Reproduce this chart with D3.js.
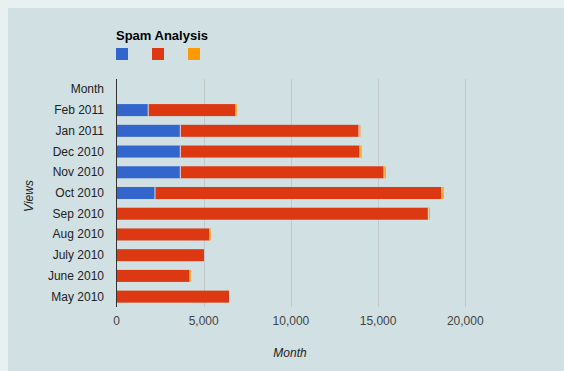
<!DOCTYPE html>
<html>
<head>
<meta charset="utf-8">
<script src="https://cdn.jsdelivr.net/npm/d3@7"></script>
<style>
  html, body { margin: 0; padding: 0; background: #e9f0f1; overflow: hidden; }
  #chart { position: absolute; left: 0; top: 0; }
</style>
</head>
<body>
<div id="chart"></div>
<script>
// Spam Analysis - stacked horizontal bars
const months = ['Month', 'Feb 2011', 'Jan 2011', 'Dec 2010', 'Nov 2010', 'Oct 2010',
                'Sep 2010', 'Aug 2010', 'July 2010', 'June 2010', 'May 2010'];
const blueSeries   = [0, 1820, 3660, 3660, 3660, 2210, 0, 0, 0, 0, 0];
const redSeries    = [0, 5030, 10245, 10300, 11680, 16450, 17880, 5360, 5020, 4215, 6450];
const orangeSeries = [0, 40, 80, 90, 100, 100, 80, 20, 0, 30, 0];
const xTicks = [0, 5000, 10000, 15000, 20000];

const colors = ['#3366cc', '#dc3912', '#ff9900'];
const W = 564, H = 371;
const area = {left: 116.5, right: 552.5, top: 79, bottom: 307};

const svg = d3.select('#chart').append('svg')
    .attr('width', W)
    .attr('height', H)
    .style('font-family', 'Liberation Sans, Arial, sans-serif');

// background panel
svg.append('rect')
    .attr('x', 8).attr('y', 8)
    .attr('width', W).attr('height', H)
    .attr('fill', '#d0e0e3');

const x = d3.scaleLinear().domain([0, 25000]).range([area.left, area.right]);
const y = d3.scaleBand().domain(months).range([area.top, area.bottom]).paddingInner(0.42).paddingOuter(0.21);

// grid lines
svg.append('g')
    .selectAll('line')
    .data(xTicks.slice(1))
    .join('line')
    .attr('x1', d => Math.round(x(d)) + 0.5)
    .attr('x2', d => Math.round(x(d)) + 0.5)
    .attr('y1', area.top)
    .attr('y2', area.bottom)
    .attr('stroke', '#c4c9ca')
    .attr('stroke-width', 1);

// stacked bars
const rows = months.map((m, i) => {
    const vals = [blueSeries[i], redSeries[i], orangeSeries[i]];
    let acc = 0;
    return vals.map((v, k) => {
        const seg = {month: m, k: k, x0: acc, x1: acc + v};
        acc += v;
        return seg;
    }).filter(s => s.x1 > s.x0);
});

const bars = svg.append('g');
rows.flat().forEach(s => {
    bars.append('rect')
        .attr('x', x(s.x0))
        .attr('y', y(s.month))
        .attr('width', Math.max(x(s.x1) - x(s.x0), 1))
        .attr('height', y.bandwidth())
        .attr('fill', colors[s.k]);
    if (s.x0 > 0) {
        // thin light separator between stacked pieces
        bars.append('rect')
            .attr('x', x(s.x0) - 0.5)
            .attr('y', y(s.month))
            .attr('width', 0.8)
            .attr('height', y.bandwidth())
            .attr('fill', '#eef2f3');
    }
});

// vertical axis line
svg.append('line')
    .attr('x1', area.left).attr('x2', area.left)
    .attr('y1', area.top).attr('y2', area.bottom)
    .attr('stroke', '#333')
    .attr('stroke-width', 1);

// category labels
svg.append('g')
    .selectAll('text')
    .data(months)
    .join('text')
    .attr('x', 104)
    .attr('y', d => y(d) + y.bandwidth() / 2 + 4)
    .attr('text-anchor', 'end')
    .attr('font-size', '12px')
    .attr('fill', '#222')
    .text(d => d);

// x tick labels
svg.append('g')
    .selectAll('text')
    .data(xTicks)
    .join('text')
    .attr('x', d => x(d))
    .attr('y', 325)
    .attr('text-anchor', 'middle')
    .attr('font-size', '12px')
    .attr('fill', '#444')
    .text(d => d3.format(',')(d));

// axis titles
svg.append('text')
    .attr('x', 290)
    .attr('y', 357)
    .attr('text-anchor', 'middle')
    .attr('font-size', '12px')
    .attr('font-style', 'italic')
    .attr('fill', '#222')
    .text('Month');

svg.append('text')
    .attr('transform', 'translate(33, 196) rotate(-90)')
    .attr('text-anchor', 'middle')
    .attr('font-size', '12px')
    .attr('font-style', 'italic')
    .attr('fill', '#222')
    .text('Views');

// title
svg.append('text')
    .attr('x', 116)
    .attr('y', 40)
    .attr('font-size', '13px')
    .attr('font-weight', 'bold')
    .attr('fill', '#000')
    .text('Spam Analysis');

// legend (series have no names)
svg.append('g')
    .selectAll('rect')
    .data(colors)
    .join('rect')
    .attr('x', (d, i) => 116 + i * 36)
    .attr('y', 48)
    .attr('width', 12)
    .attr('height', 12)
    .attr('fill', d => d);
</script>
</body>
</html>
